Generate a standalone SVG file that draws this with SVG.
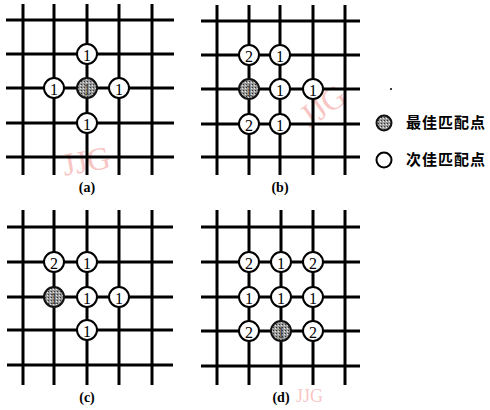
<svg xmlns="http://www.w3.org/2000/svg" width="490" height="410" viewBox="0 0 490 410">
<style>
.g line{stroke:#000;stroke-width:3;stroke-linecap:butt}
.n circle{fill:#fff;stroke:#000;stroke-width:2}
.n.best circle{fill:url(#dots);stroke:#111;stroke-width:2}
.n text{font-family:"Liberation Serif",serif;font-size:16px;text-anchor:middle;dominant-baseline:central;fill:#000}
.n.best text{fill:#444}
.lab{font-family:"Liberation Serif",serif;font-size:14px;font-weight:bold;text-anchor:middle}
.leg{font-family:"Noto Sans CJK SC","Noto Sans CJK JP",sans-serif;font-size:15px;font-weight:bold}
.wm{font-family:"Liberation Serif",serif;font-size:32px;fill:#f08080;opacity:0.45}
</style>
<defs>
<pattern id="dots" width="3" height="3" patternUnits="userSpaceOnUse">
<rect width="3" height="3" fill="#9a9a9a"/>
<rect width="1" height="1" fill="#333"/>
<rect x="2" y="1" width="1" height="1" fill="#e8e8e8"/>
</pattern>
</defs>

<!-- watermarks -->
<text class="wm" x="62" y="172" transform="rotate(-10 85 160)">JJG</text>
<text class="wm" x="298" y="118" transform="rotate(-35 320 105)">JJG</text>
<text class="wm" x="296" y="402" style="font-size:18px">JJG</text>

<g id="connectors">
<g class="g" id="grid-a">
<line x1="6" y1="20" x2="174" y2="20"/><line x1="6" y1="54" x2="174" y2="54"/><line x1="6" y1="88" x2="174" y2="88"/><line x1="6" y1="123" x2="174" y2="123"/><line x1="6" y1="157" x2="174" y2="157"/>
<line x1="23" y1="4" x2="23" y2="175"/><line x1="54" y1="4" x2="54" y2="175"/><line x1="87" y1="4" x2="87" y2="175"/><line x1="119" y1="4" x2="119" y2="175"/><line x1="152" y1="4" x2="152" y2="175"/>
</g>
<g class="g" id="grid-b">
<line x1="201" y1="21" x2="360" y2="21"/><line x1="201" y1="55" x2="360" y2="55"/><line x1="201" y1="89" x2="360" y2="89"/><line x1="201" y1="124" x2="360" y2="124"/><line x1="201" y1="157" x2="360" y2="157"/>
<line x1="217" y1="5" x2="217" y2="175"/><line x1="249" y1="5" x2="249" y2="175"/><line x1="280" y1="5" x2="280" y2="175"/><line x1="313" y1="5" x2="313" y2="175"/><line x1="345" y1="5" x2="345" y2="175"/>
</g>
<g class="g" id="grid-c">
<line x1="7" y1="227" x2="173" y2="227"/><line x1="7" y1="262" x2="173" y2="262"/><line x1="7" y1="297" x2="173" y2="297"/><line x1="7" y1="330" x2="173" y2="330"/><line x1="7" y1="365" x2="173" y2="365"/>
<line x1="23" y1="210" x2="23" y2="385"/><line x1="54" y1="210" x2="54" y2="385"/><line x1="87" y1="210" x2="87" y2="385"/><line x1="119" y1="210" x2="119" y2="385"/><line x1="152" y1="210" x2="152" y2="385"/>
</g>
<g class="g" id="grid-d">
<line x1="201" y1="227" x2="360" y2="227"/><line x1="201" y1="262" x2="360" y2="262"/><line x1="201" y1="297" x2="360" y2="297"/><line x1="201" y1="331" x2="360" y2="331"/><line x1="201" y1="366" x2="360" y2="366"/>
<line x1="217" y1="210" x2="217" y2="385"/><line x1="249" y1="210" x2="249" y2="385"/><line x1="281" y1="210" x2="281" y2="385"/><line x1="313" y1="210" x2="313" y2="385"/><line x1="345" y1="210" x2="345" y2="385"/>
</g>
</g>

<!-- panel a -->
<g id="a-n1" class="n"><circle cx="87" cy="54" r="10"/><text x="87" y="55">1</text></g>
<g id="a-n2" class="n"><circle cx="54" cy="88" r="10"/><text x="54" y="89">1</text></g>
<g id="a-best" class="n best"><circle cx="87" cy="88" r="10"/><text x="87" y="89">1</text></g>
<g id="a-n3" class="n"><circle cx="119" cy="88" r="10"/><text x="119" y="89">1</text></g>
<g id="a-n4" class="n"><circle cx="87" cy="123" r="10"/><text x="87" y="124">1</text></g>
<text class="lab" x="87" y="192">(a)</text>

<!-- panel b -->
<g id="b-n1" class="n"><circle cx="249" cy="55" r="10"/><text x="249" y="56">2</text></g>
<g id="b-n2" class="n"><circle cx="280" cy="55" r="10"/><text x="280" y="56">1</text></g>
<g id="b-best" class="n best"><circle cx="249" cy="89" r="10"/><text x="249" y="90">1</text></g>
<g id="b-n3" class="n"><circle cx="280" cy="89" r="10"/><text x="280" y="90">1</text></g>
<g id="b-n4" class="n"><circle cx="313" cy="89" r="10"/><text x="313" y="90">1</text></g>
<g id="b-n5" class="n"><circle cx="249" cy="124" r="10"/><text x="249" y="125">2</text></g>
<g id="b-n6" class="n"><circle cx="280" cy="124" r="10"/><text x="280" y="125">1</text></g>
<text class="lab" x="280" y="192">(b)</text>

<!-- panel c -->
<g id="c-n1" class="n"><circle cx="54" cy="262" r="10"/><text x="54" y="263">2</text></g>
<g id="c-n2" class="n"><circle cx="87" cy="262" r="10"/><text x="87" y="263">1</text></g>
<g id="c-best" class="n best"><circle cx="54" cy="297" r="10"/><text x="54" y="298">1</text></g>
<g id="c-n3" class="n"><circle cx="87" cy="297" r="10"/><text x="87" y="298">1</text></g>
<g id="c-n4" class="n"><circle cx="119" cy="297" r="10"/><text x="119" y="298">1</text></g>
<g id="c-n5" class="n"><circle cx="87" cy="330" r="10"/><text x="87" y="331">1</text></g>
<text class="lab" x="87" y="402">(c)</text>

<!-- panel d -->
<g id="d-n1" class="n"><circle cx="249" cy="262" r="10"/><text x="249" y="263">2</text></g>
<g id="d-n2" class="n"><circle cx="281" cy="262" r="10"/><text x="281" y="263">1</text></g>
<g id="d-n3" class="n"><circle cx="313" cy="262" r="10"/><text x="313" y="263">2</text></g>
<g id="d-n4" class="n"><circle cx="249" cy="297" r="10"/><text x="249" y="298">1</text></g>
<g id="d-n5" class="n"><circle cx="281" cy="297" r="10"/><text x="281" y="298">1</text></g>
<g id="d-n6" class="n"><circle cx="313" cy="297" r="10"/><text x="313" y="298">1</text></g>
<g id="d-n7" class="n"><circle cx="249" cy="331" r="10"/><text x="249" y="332">2</text></g>
<g id="d-best" class="n best"><circle cx="281" cy="331" r="10"/><text x="281" y="332">1</text></g>
<g id="d-n8" class="n"><circle cx="313" cy="331" r="10"/><text x="313" y="332">2</text></g>
<text class="lab" x="281" y="402">(d)</text>

<!-- legend -->
<g id="legend">
<circle cx="391" cy="89" r="1" fill="#000"/>
<g id="leg-best" class="n best"><circle cx="384" cy="123" r="7.5"/></g>
<text class="leg" x="406" y="128" textLength="79">最佳匹配点</text>
<g id="leg-second" class="n"><circle cx="384" cy="160" r="7.5"/></g>
<text class="leg" x="406" y="165" textLength="79">次佳匹配点</text>
</g>
</svg>
